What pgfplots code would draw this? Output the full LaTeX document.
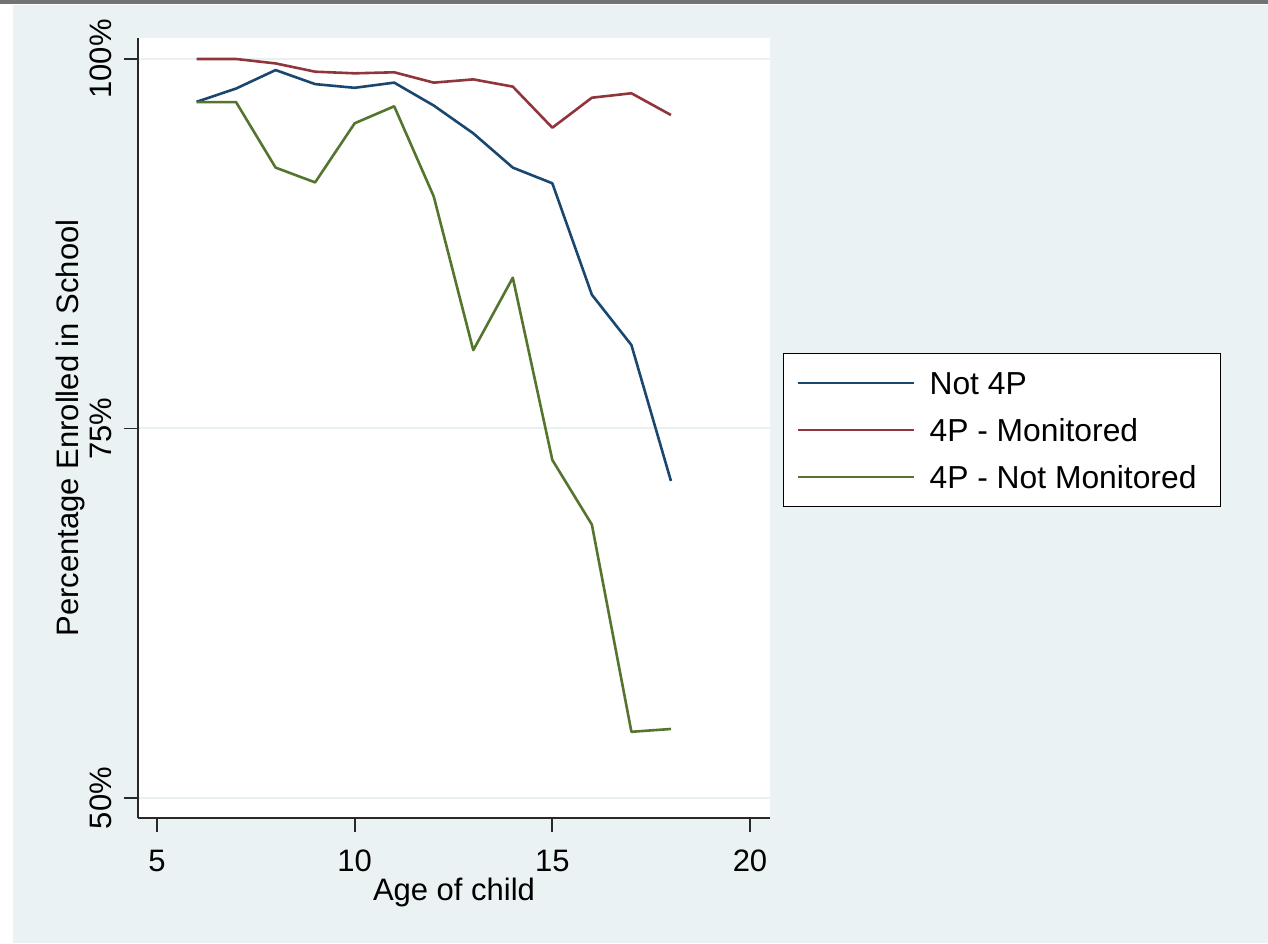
\documentclass[border=0pt]{standalone}
\usepackage{pgfplots}
\pgfplotsset{compat=1.18}
\usepackage{fontspec}
\setmainfont{Liberation Sans}
\definecolor{bgc}{RGB}{234,242,243}
\definecolor{snavy}{RGB}{26,71,111}
\definecolor{smaroon}{RGB}{144,53,59}
\definecolor{sgreen}{RGB}{85,117,47}
\definecolor{gridc}{RGB}{232,240,242}
\definecolor{axc}{RGB}{40,40,40}
\begin{document}
\fontsize{15.5}{18}\selectfont
\begin{tikzpicture}
\useasboundingbox (-69pt,-62.5pt) rectangle (565pt,409pt);
\fill[white] (-69pt,-62.5pt) rectangle (565pt,409pt);
\fill[bgc] (-62.5pt,-62.5pt) rectangle (565pt,406.5pt);
\fill[black!55] (-69pt,407pt) rectangle (565pt,409pt);
\begin{axis}[
  at={(0pt,0pt)}, anchor=south west,
  scale only axis, width=316pt, height=390pt,
  xmin=4.519, xmax=20.506, ymin=48.647, ymax=101.42,
  axis background/.style={fill=white},
  axis x line*=bottom, axis y line*=left,
  axis line style={-, axc, line width=0.9pt},
  tick align=outside, major tick length=7pt,
  tick style={axc, line width=0.9pt},
  xtick={5,10,15,20}, ytick={50,75,100},
  yticklabels={50\%,75\%,100\%},
  minor tick num=0,
  ymajorgrids, grid style={gridc, line width=1pt},
  /pgf/number format/assume math mode=true,
  ticklabel style={font=\fontsize{15.5}{18}\selectfont},
  xticklabel style={anchor=base, inner sep=0pt, yshift=-19.5pt},
  yticklabel style={xshift=-6pt, rotate=90, anchor=base, inner sep=0pt},
  xlabel={Age of child},
  ylabel={Percentage Enrolled in School},
  label style={font=\fontsize{15.5}{18}\selectfont},
  xlabel style={at={(axis description cs:0.5,-0.10603)}, anchor=base, inner sep=0pt},
  ylabel style={at={(axis description cs:-0.09335,0.5)}, anchor=base, inner sep=0pt},
  legend cell align=left,
  legend style={at={(axis description cs:1.02057,0.59615)}, anchor=north west,
    draw=black, line width=0.6pt, fill=white, inner xsep=0pt, inner ysep=3pt,
    row sep=0pt, column sep=0pt,
    nodes={inner sep=0pt, text height=11pt, text depth=0pt, anchor=west,
      font=\fontsize{15.9}{18}\selectfont},
  },
  legend image code/.code={\path[draw=none, fill=none] (-7pt,-11.75pt) rectangle (66pt,11.75pt);
    \draw[#1, line width=1.3pt] (0pt,0pt) -- (58pt,0pt);},
  every axis plot/.append style={line width=1.3pt, line join=round},
]
\addplot[snavy, no markers] coordinates {
(6,97.1) (7,98.0) (8,99.25) (9,98.3) (10,98.05) (11,98.4) (12,96.85) (13,94.97) (14,92.65) (15,91.59) (16,84.05) (17,80.65) (18,71.45)};
\addlegendentry{Not 4P}
\addplot[smaroon, no markers] coordinates {
(6,100) (7,100) (8,99.7) (9,99.14) (10,99.03) (11,99.1) (12,98.4) (13,98.62) (14,98.13) (15,95.35) (16,97.38) (17,97.68) (18,96.21)};
\addlegendentry{4P - Monitored}
\addplot[sgreen, no markers] coordinates {
(6,97.08) (7,97.08) (8,92.65) (9,91.65) (10,95.65) (11,96.8) (12,90.7) (13,80.3) (14,85.2) (15,72.87) (16,68.5) (17,54.48) (18,54.67)};
\addlegendentry{4P - Not Monitored\hspace*{12pt}}
\end{axis}
\end{tikzpicture}
\end{document}
